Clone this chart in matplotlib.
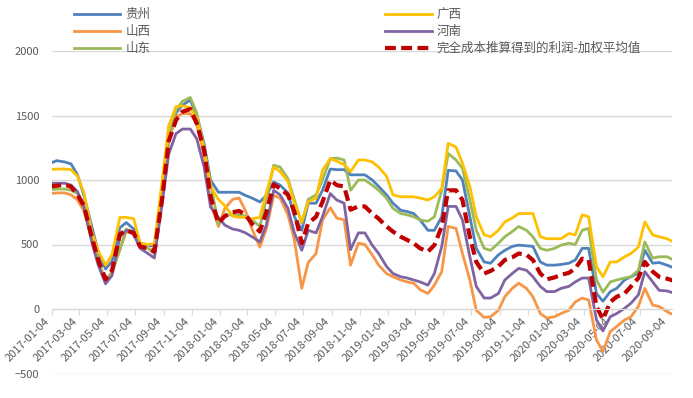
import numpy as np
import pandas as pd
import matplotlib
matplotlib.use("Agg")
import matplotlib.pyplot as plt

# semi-monthly sampling (1st and 15th), Jan 2017 - Sep 2020
dates = pd.date_range("2017-01-01", "2020-09-15", freq="SMS")

guizhou = [1130, 1150, 1140, 1125, 1040, 880, 640, 440, 310, 370,
           630, 670, 620, 510, 495, 485, 900, 1320, 1520, 1580,
           1620, 1500, 1280, 1000, 905, 905, 905, 905, 880, 860,
           830, 880, 985, 960, 900, 715, 610, 820, 820, 920,
           1085, 1080, 1080, 1040, 1040, 1040, 1000, 950, 885, 820,
           765, 755, 740, 690, 610, 610, 715, 1075, 1070, 1000,
           715, 470, 365, 355, 420, 455, 485, 495, 490, 485,
           365, 340, 340, 345, 355, 380, 470, 470, 120, 60,
           135, 160, 225, 250, 280, 455, 355, 360, 340, 320]
guangxi = [1080, 1085, 1085, 1080, 1030, 900, 600, 450, 340, 420,
           710, 710, 700, 510, 500, 505, 1000, 1420, 1570, 1575,
           1560, 1480, 1240, 950, 850, 800, 720, 710, 710, 700,
           710, 900, 1100, 1065, 990, 820, 675, 830, 860, 1075,
           1165, 1145, 1120, 1065, 1155, 1155, 1140, 1100, 1030, 885,
           870, 870, 870, 860, 845, 870, 935, 1285, 1255, 1130,
           950, 715, 575, 560, 610, 675, 705, 740, 740, 740,
           560, 545, 545, 545, 585, 575, 730, 715, 330, 250,
           365, 365, 405, 430, 480, 675, 575, 560, 545, 520]
shanxi = [895, 900, 900, 885, 845, 760, 540, 380, 215, 290,
          460, 600, 590, 480, 470, 450, 880, 1300, 1490, 1515,
          1515, 1430, 1200, 820, 640, 780, 850, 860, 760, 620,
          480, 620, 880, 860, 730, 535, 160, 360, 430, 690,
          785, 705, 690, 340, 510, 500, 420, 340, 275, 250,
          225, 210, 200, 150, 120, 185, 290, 640, 625, 430,
          225, -10, -65, -60, -10, 95, 160, 200, 160, 95,
          -35, -70, -60, -35, -10, 55, 85, 70, -240, -330,
          -175, -135, -85, -60, 20, 160, 30, 20, -20, -45]
henan = [975, 975, 975, 960, 910, 790, 520, 340, 195, 260,
         560, 610, 580, 470, 430, 395, 820, 1200, 1360, 1395,
         1395, 1320, 1100, 790, 710, 650, 620, 610, 590, 560,
         520, 650, 920, 885, 780, 590, 455, 610, 590, 715,
         895, 845, 820, 460, 590, 590, 495, 430, 330, 275,
         250, 240, 225, 210, 185, 275, 485, 795, 795, 690,
         405, 175, 85, 85, 120, 225, 275, 315, 300, 250,
         175, 135, 135, 160, 175, 210, 240, 240, -85, -170,
         -60, -35, 5, 45, 110, 290, 210, 145, 140, 125]
shandong = [925, 930, 930, 920, 895, 815, 560, 370, 205, 280,
            460, 620, 590, 485, 470, 430, 900, 1330, 1545, 1610,
            1640, 1520, 1250, 970, 660, 730, 730, 730, 720, 690,
            640, 850, 1115, 1100, 1010, 845, 665, 850, 885, 1000,
            1165, 1170, 1155, 920, 1000, 1000, 960, 920, 860, 780,
            740, 730, 715, 690, 680, 715, 920, 1205, 1155, 1090,
            845, 610, 470, 455, 510, 560, 600, 640, 610, 560,
            470, 455, 470, 495, 510, 500, 610, 625, 225, 130,
            210, 225, 240, 250, 300, 520, 395, 405, 405, 380]
avg_profit = [950, 955, 965, 948, 885, 800, 560, 380, 230, 300,
              580, 610, 590, 485, 470, 445, 860, 1300, 1465, 1530,
              1550, 1440, 1230, 870, 665, 720, 750, 760, 730, 660,
              600, 750, 965, 935, 885, 755, 510, 665, 715, 830,
              1000, 960, 950, 770, 795, 795, 740, 700, 640, 600,
              560, 535, 510, 470, 445, 495, 640, 920, 920, 845,
              560, 365, 275, 295, 330, 380, 400, 430, 420, 380,
              275, 230, 245, 265, 280, 315, 390, 380, 20, -80,
              55, 95, 120, 175, 240, 365, 290, 250, 235, 220]

series = [
    ("贵州", guizhou, "#4F81BD"),
    ("山西", shanxi, "#F79646"),
    ("山东", shandong, "#9BBB59"),
    ("广西", guangxi, "#FFC000"),
    ("河南", henan, "#8064A2"),
]

plt.rcParams["font.family"] = ["Noto Sans CJK SC", "DejaVu Sans"]

fig = plt.figure(figsize=(6.93, 3.98), dpi=100)
ax = fig.add_axes([51.7 / 693, 1 - 373.5 / 398, (672 - 51.7) / 693, (373.5 - 51) / 398])

# spine first: moving it resets the tick labels
for s in ["left", "right", "top"]:
    ax.spines[s].set_visible(False)
ax.spines["bottom"].set_position(("data", 0))
ax.spines["bottom"].set_color("#d9d9d9")

handles = []
for name, vals, col in series:
    h, = ax.plot(dates, vals, color=col, lw=2.0, label=name, solid_joinstyle="round")
    handles.append(h)
red, = ax.plot(dates, avg_profit, color="#C00000", lw=3.0, dashes=(2.6, 1.3),
               label="完全成本推算得到的利润-加权平均值")
handles.append(red)

ax.set_ylim(-500, 2000)
ax.set_yticks(np.arange(-500, 2001, 500))
ax.set_xlim(pd.Timestamp("2017-01-04"), pd.Timestamp("2020-09-12"))

# ticks every two months on the 4th
tick_dates = [pd.Timestamp(2017 + (m - 1) // 12, (m - 1) % 12 + 1, 4) for m in range(1, 46, 2)]
ax.set_xticks(tick_dates, labels=[d.strftime("%Y-%m-%d") for d in tick_dates],
              rotation=45, ha="right")

ax.yaxis.grid(True, color="#d9d9d9", lw=1.0)
ax.set_axisbelow(True)
ax.tick_params(axis="x", colors="#d9d9d9", labelcolor="#595959", labelsize=8, length=4, pad=1)
ax.tick_params(axis="y", length=0, labelcolor="#595959", labelsize=8, pad=9)

leg = fig.legend(handles=handles, ncol=2, loc="upper left",
                 bbox_to_anchor=(74 / 693, 1 - 8 / 398), frameon=False,
                 fontsize=9, handlelength=3.7, handletextpad=0.4,
                 columnspacing=18.8, labelspacing=0.32, borderpad=0, borderaxespad=0)
for t in leg.get_texts():
    t.set_color("#595959")

fig.savefig("out.png", dpi=100)
